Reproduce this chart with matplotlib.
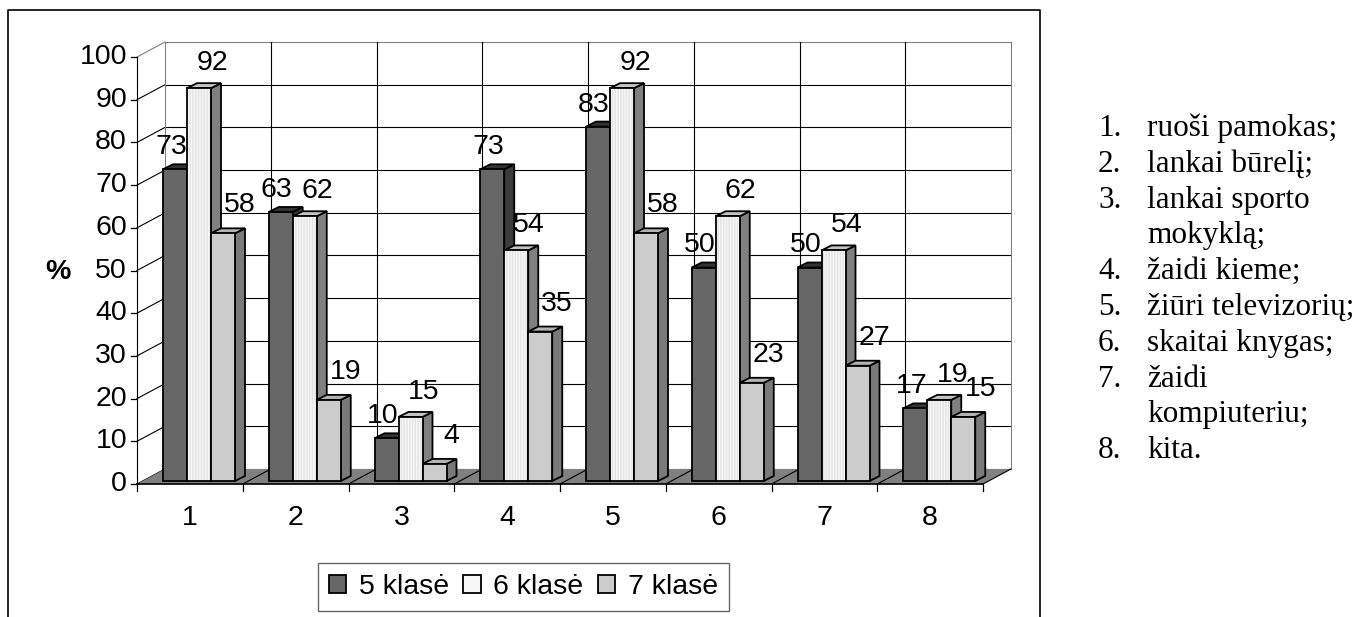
import matplotlib
matplotlib.use('Agg')
import matplotlib.pyplot as plt
from matplotlib.patches import Polygon, Rectangle, Patch
from matplotlib.lines import Line2D

# ---------------- data ----------------
categories = ['1', '2', '3', '4', '5', '6', '7', '8']
series_names = ['5 klasė', '6 klasė', '7 klasė']
klase5 = [73, 63, 10, 73, 83, 50, 50, 17]
klase6 = [92, 62, 15, 54, 92, 62, 54, 19]
klase7 = [58, 19, 4, 35, 58, 23, 27, 15]
y_ticks = [0, 10, 20, 30, 40, 50, 60, 70, 80, 90, 100]
y_label = '%'
note_numbers = ['1.', '2.', '3.', '', '4.', '5.', '6.', '7.', '', '8.']
note_texts = ['ruoši pamokas;', 'lankai būrelį;', 'lankai sporto', 'mokyklą;',
              'žaidi kieme;', 'žiūri televizorių;', 'skaitai knygas;', 'žaidi',
              'kompiuteriu;', 'kita.']

series = [klase5, klase6, klase7]

# ---------------- style ----------------
front_cols = ['#666666', '#f7f7f7', '#cccccc']
top_cols = ['#333333', '#c4c4c4', '#b4b4b4']
side_cols = ['#3c3c3c', '#808080', '#7a7a7a']
SANS = 'Liberation Sans'
SERIF = 'Liberation Serif'
FS = 20.5

W, H = 1359, 617
fig = plt.figure(figsize=(W / 100, H / 100), dpi=100)
fig.patch.set_facecolor('white')


def fx(x):
    return x / W


def fy(y):
    return 1 - y / H


# front plane of the 3-D box
X0, X1, Y0, Y1 = 137, 983, 484, 57
ax = fig.add_axes([fx(X0), fy(Y0), (X1 - X0) / W, (Y0 - Y1) / H])
ncat = len(categories)
ax.set_xlim(0, ncat)
ax.set_ylim(0, 100)
ax.axis('off')

PX = ncat / (X1 - X0)      # data-x per pixel
PY = 100 / (Y0 - Y1)       # data-y per pixel

# depth of the box
bx, by = 28 * PX, 15 * PY

# floor
ax.add_patch(Polygon([(0, 0), (ncat, 0), (ncat + bx, by), (bx, by)],
                     closed=True, fc='#808080', ec='none', zorder=1, clip_on=False))

# back wall grid
for t in y_ticks:
    col = '#808080' if t == 100 else 'black'
    ax.plot([bx, ncat + bx], [t + by, t + by], color=col, lw=0.8, zorder=0.5, clip_on=False)
    # side wall diagonals
    ax.plot([0, bx], [t, t + by], color=col, lw=0.8, zorder=0.5, clip_on=False)
for i in range(ncat + 1):
    col = '#808080' if i in (0, ncat) else 'black'
    ax.plot([i + bx, i + bx], [by, 100 + by], color=col, lw=0.8, zorder=0.5, clip_on=False)
# floor diagonals
for i in range(1, ncat + 1):
    ax.plot([i, i + bx], [0, by], color='black', lw=0.8, zorder=1.5, clip_on=False)

# front axes
ax.plot([0, 0], [0, 100], color='black', lw=0.8, zorder=2, clip_on=False)
ax.plot([0, ncat], [0, 0], color='black', lw=1.2, zorder=2, clip_on=False)
for i in range(ncat + 1):
    ax.plot([i, i], [0, -7 * PY], color='black', lw=0.9, zorder=2, clip_on=False)
for t in y_ticks:
    ax.plot([0, -6 * PX], [t, t], color='black', lw=0.9, zorder=2, clip_on=False)
    ax.text(-10 * PX, t, str(t), ha='right', va='center', fontsize=FS,
            family=SANS, clip_on=False)
for i, c in enumerate(categories):
    ax.text(i + 0.5, -34 * PY, c, ha='center', va='center', fontsize=FS,
            family=SANS, clip_on=False)

fig.text(fx(58), fy(272), y_label, ha='center', va='center', fontsize=FS,
         fontweight='bold', family=SANS)

# bars
bw = 24 * PX
goff = 26 * PX
base = 3 * PY
ddx, ddy = 10 * PX, 5 * PY
label_off = [(-4, 22), (13, 25), (17, 28)]
z = 3
for i in range(ncat):
    for j, vals in enumerate(series):
        v = vals[i]
        L = i + goff + j * bw
        top = base + v
        side = Polygon([(L + bw, base), (L + bw + ddx, base + ddy),
                        (L + bw + ddx, top + ddy), (L + bw, top)], closed=True,
                       fc=side_cols[j], ec='black', lw=1.3, joinstyle='miter',
                       zorder=z, clip_on=False)
        topf = Polygon([(L, top), (L + bw, top), (L + bw + ddx, top + ddy),
                        (L + ddx, top + ddy)], closed=True,
                       fc=top_cols[j], ec='black', lw=1.3, joinstyle='miter',
                       zorder=z + 0.1, clip_on=False)
        front = Rectangle((L, base), bw, v, fc=front_cols[j], ec='none',
                          zorder=z + 0.2, clip_on=False)
        ax.add_patch(side)
        ax.add_patch(topf)
        ax.add_patch(front)
        if j == 1:
            ax.add_patch(Rectangle((L, base), bw, v, fill=False, hatch='||||||',
                                   ec='#e4e4e4', lw=0, zorder=z + 0.25, clip_on=False))
        ax.add_patch(Rectangle((L, base), bw, v, fill=False, ec='black', lw=1.3,
                               joinstyle='miter', zorder=z + 0.3, clip_on=False))
        dxp, dyp = label_off[j]
        ax.text(L + bw / 2 + dxp * PX, top + dyp * PY, str(v), ha='center',
                va='center', fontsize=FS, family=SANS, zorder=20, clip_on=False)
        z += 1

# legend
handles = [Patch(fc=front_cols[j], ec='black', lw=1.3) for j in range(3)]
leg = fig.legend(handles, series_names, loc='center',
                 bbox_to_anchor=(fx(523.5), fy(587)), ncol=3,
                 prop={'family': SANS, 'size': FS}, frameon=True, fancybox=False,
                 handlelength=0.6, handleheight=0.6, handletextpad=0.45,
                 columnspacing=0.5, borderpad=0.4, borderaxespad=0)
leg.get_frame().set_edgecolor('#404040')
leg.get_frame().set_linewidth(1.0)

# outer frame
fig.add_artist(Line2D([fx(8), fx(8), fx(1040), fx(1040)],
                      [fy(617), fy(10), fy(10), fy(617)],
                      color='black', lw=1.2, transform=fig.transFigure))

# notes on the right
for k, (n, t) in enumerate(zip(note_numbers, note_texts)):
    yb = 136 + 35.8 * k
    if n:
        fig.text(fx(1098), fy(yb), n, ha='left', va='baseline', fontsize=22.5,
                 family=SERIF)
    fig.text(fx(1147), fy(yb), t, ha='left', va='baseline', fontsize=22.5,
             family=SERIF)

fig.savefig('out.png', dpi=100, facecolor='white')
